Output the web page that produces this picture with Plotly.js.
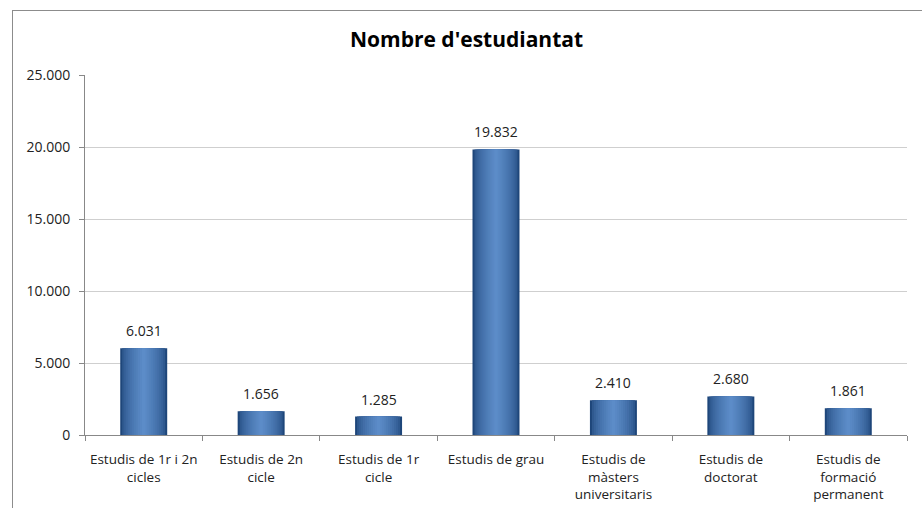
<!DOCTYPE html>
<html>
<head>
<meta charset="utf-8">
<script src="https://cdn.plot.ly/plotly-3.0.1.min.js"></script>
<style>
html,body{margin:0;padding:0;background:#fff;overflow:hidden;}
#chart{position:absolute;left:0;top:0;width:922px;height:508px;}
#frame{position:absolute;left:12px;top:10px;width:930px;height:520px;border-left:1px solid #8c8c8c;border-top:1px solid #8c8c8c;pointer-events:none;}
</style>
</head>
<body>
<div id="chart"></div>
<div id="frame"></div>
<script>
const categories = [
  "Estudis de 1r i 2n<br>cicles",
  "Estudis de 2n<br>cicle",
  "Estudis de 1r<br>cicle",
  "Estudis de grau",
  "Estudis de<br>màsters<br>universitaris",
  "Estudis de<br>doctorat",
  "Estudis de<br>formació<br>permanent"
];
const students = [6031, 1656, 1285, 19832, 2410, 2680, 1861];
const yTicks = [0, 5000, 10000, 15000, 20000, 25000];

// gradient simulation: stacked overlay layers, dark edge -> light centre
const dark = [30, 70, 122], light = [92, 140, 200];
const layers = 12, maxW = 0.40, minW = 0.03;
const traces = [];
for (let i = 0; i < layers; i++) {
  const t = i / (layers - 1);
  const w = maxW - (maxW - minW) * t;
  const k = Math.pow(t, 0.55);
  const c = dark.map((d, j) => Math.round(d + (light[j] - d) * k));
  traces.push({
    type: 'bar',
    x: categories,
    y: students,
    width: w,
    marker: {color: 'rgb(' + c.join(',') + ')', line: {width: 0}},
    hoverinfo: i === 0 ? 'x+y' : 'skip',
    showlegend: false
  });
}

const fmt = v => String(v).replace(/\B(?=(\d{3})+(?!\d))/g, '.');
const annotations = categories.map((c, i) => ({
  x: c, y: students[i], xref: 'x', yref: 'y',
  text: fmt(students[i]), showarrow: false,
  yanchor: 'bottom', yshift: 6,
  font: {family: 'Open Sans, sans-serif', size: 14, color: '#222'}
}));

const layout = {
  width: 922, height: 508,
  margin: {l: 85, r: 15, t: 75, b: 73},
  paper_bgcolor: '#fff', plot_bgcolor: '#fff',
  separators: ',.',
  barmode: 'overlay',
  font: {family: 'Open Sans, sans-serif', size: 13, color: '#222'},
  title: {
    text: "Nombre d'estudiantat",
    font: {family: 'Open Sans, sans-serif', size: 21, color: '#000', weight: 'bold'},
    x: 0.506, xanchor: 'center', xref: 'container',
    y: 0.921, yanchor: 'middle', yref: 'container'
  },
  annotations: annotations,
  xaxis: {
    type: 'category',
    showline: true, linecolor: '#888', linewidth: 1,
    ticks: 'outside', tickson: 'boundaries', ticklen: 5, tickcolor: '#888',
    showgrid: false,
    tickangle: 0,
    ticklabelstandoff: 12,
    tickfont: {family: 'Open Sans, sans-serif', size: 13.5, color: '#222'},
    automargin: false
  },
  yaxis: {
    range: [0, 25000],
    tickvals: yTicks,
    tickformat: ',d',
    showline: true, linecolor: '#888', linewidth: 1,
    ticks: 'outside', ticklen: 5, tickcolor: '#888',
    showgrid: true, gridcolor: '#cfcfcf', gridwidth: 1,
    zeroline: false,
    ticklabelstandoff: 6,
    tickfont: {family: 'Open Sans, sans-serif', size: 14, color: '#222'},
    automargin: false
  }
};

Plotly.newPlot('chart', traces, layout, {displayModeBar: false, staticPlot: true});
</script>
</body>
</html>
